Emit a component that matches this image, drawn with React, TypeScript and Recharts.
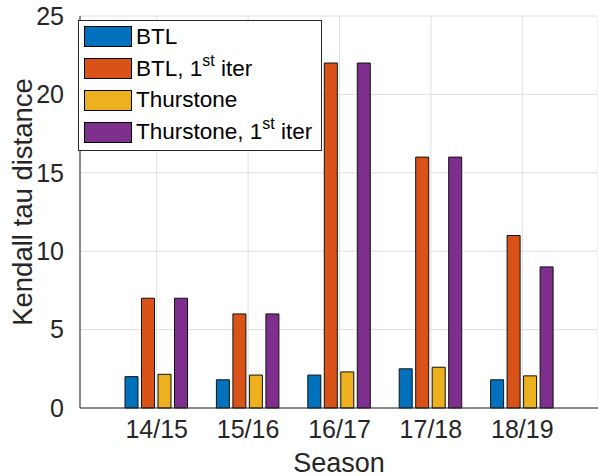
import * as React from 'react'
import { Bar, BarChart, CartesianGrid, Legend, XAxis, YAxis } from 'recharts'

const seasons = ['14/15', '15/16', '16/17', '17/18', '18/19']
const btl = [2.0, 1.8, 2.1, 2.5, 1.8]
const btlFirst = [7, 6, 22, 16, 11]
const thurstone = [2.15, 2.1, 2.3, 2.6, 2.05]
const thurstoneFirst = [7, 6, 22, 16, 9]
const yTicks = [0, 5, 10, 15, 20, 25]

const series = [
  { key: 'btl', name: 'BTL', sup: '', color: '#0072BD' },
  { key: 'btlFirst', name: 'BTL, 1', sup: 'st', color: '#D95319' },
  { key: 'thurstone', name: 'Thurstone', sup: '', color: '#EDB120' },
  { key: 'thurstoneFirst', name: 'Thurstone, 1', sup: 'st', color: '#7E2F8E' },
]

const data = seasons.map((s, i) => ({
  season: s,
  btl: btl[i],
  btlFirst: btlFirst[i],
  thurstone: thurstone[i],
  thurstoneFirst: thurstoneFirst[i],
}))

const FONT = '"Liberation Sans", Arial, Helvetica, sans-serif'
const INK = '#262626'

function MatlabLegend() {
  return (
    <div
      style={{
        width: 244,
        height: 131,
        border: `1px solid ${INK}`,
        background: '#fff',
        fontFamily: FONT,
        fontSize: 22.5,
        color: '#000',
        paddingTop: 0,
        boxSizing: 'border-box',
      }}
    >
      {series.map((s) => (
        <div key={s.key} style={{ display: 'flex', alignItems: 'center', height: 31.8 }}>
          <span
            style={{
              display: 'inline-block',
              width: 48,
              height: 21,
              marginLeft: 5,
              marginRight: 4,
              background: s.color,
              border: '1px solid #000',
              boxSizing: 'border-box',
            }}
          />
          <span style={{ whiteSpace: 'nowrap' }}>
            {s.name}
            {s.sup && (
              <>
                <sup style={{ fontSize: 16, verticalAlign: 10, lineHeight: 0 }}>{s.sup}</sup> iter
              </>
            )}
          </span>
        </div>
      ))}
    </div>
  )
}

export default function App() {
  return (
    <div style={{ position: 'absolute', left: 0, top: 0, background: '#fff' }}>
      <BarChart
        width={598}
        height={476}
        data={data}
        margin={{ top: 16, right: 0, left: 0, bottom: 0 }}
        barSize={13}
        barGap={3.5}
      >
        <CartesianGrid stroke="#dfdfdf" />
        <XAxis
          dataKey="season"
          height={68}
          padding={{ left: 31, right: 30 }}
          tick={{ fontSize: 25, fill: INK, fontFamily: FONT }}
          tickLine={false}
          tickMargin={6}
          axisLine={{ stroke: INK }}
          label={{ value: 'Season', position: 'insideBottom', offset: 4, fontSize: 27, fill: INK, fontFamily: FONT }}
        />
        <YAxis
          width={80}
          domain={[0, 25]}
          ticks={yTicks}
          interval={0}
          tick={{ fontSize: 25, fill: INK, fontFamily: FONT }}
          tickLine={false}
          tickMargin={10}
          axisLine={{ stroke: INK }}
          label={{
            value: 'Kendall tau distance',
            angle: -90,
            position: 'insideLeft',
            offset: 22,
            dy: -10,
            style: { textAnchor: 'middle', fontSize: 27.5, fill: INK, fontFamily: FONT },
          }}
        />
        <Legend
          layout="vertical"
          align="center"
          verticalAlign="middle"
          content={() => <MatlabLegend />}
          wrapperStyle={{ top: 20, left: 78, width: 'auto' }}
        />
        {series.map((s) => (
          <Bar key={s.key} dataKey={s.key} fill={s.color} stroke="#111" strokeWidth={1} isAnimationActive={false} />
        ))}
      </BarChart>
    </div>
  )
}
